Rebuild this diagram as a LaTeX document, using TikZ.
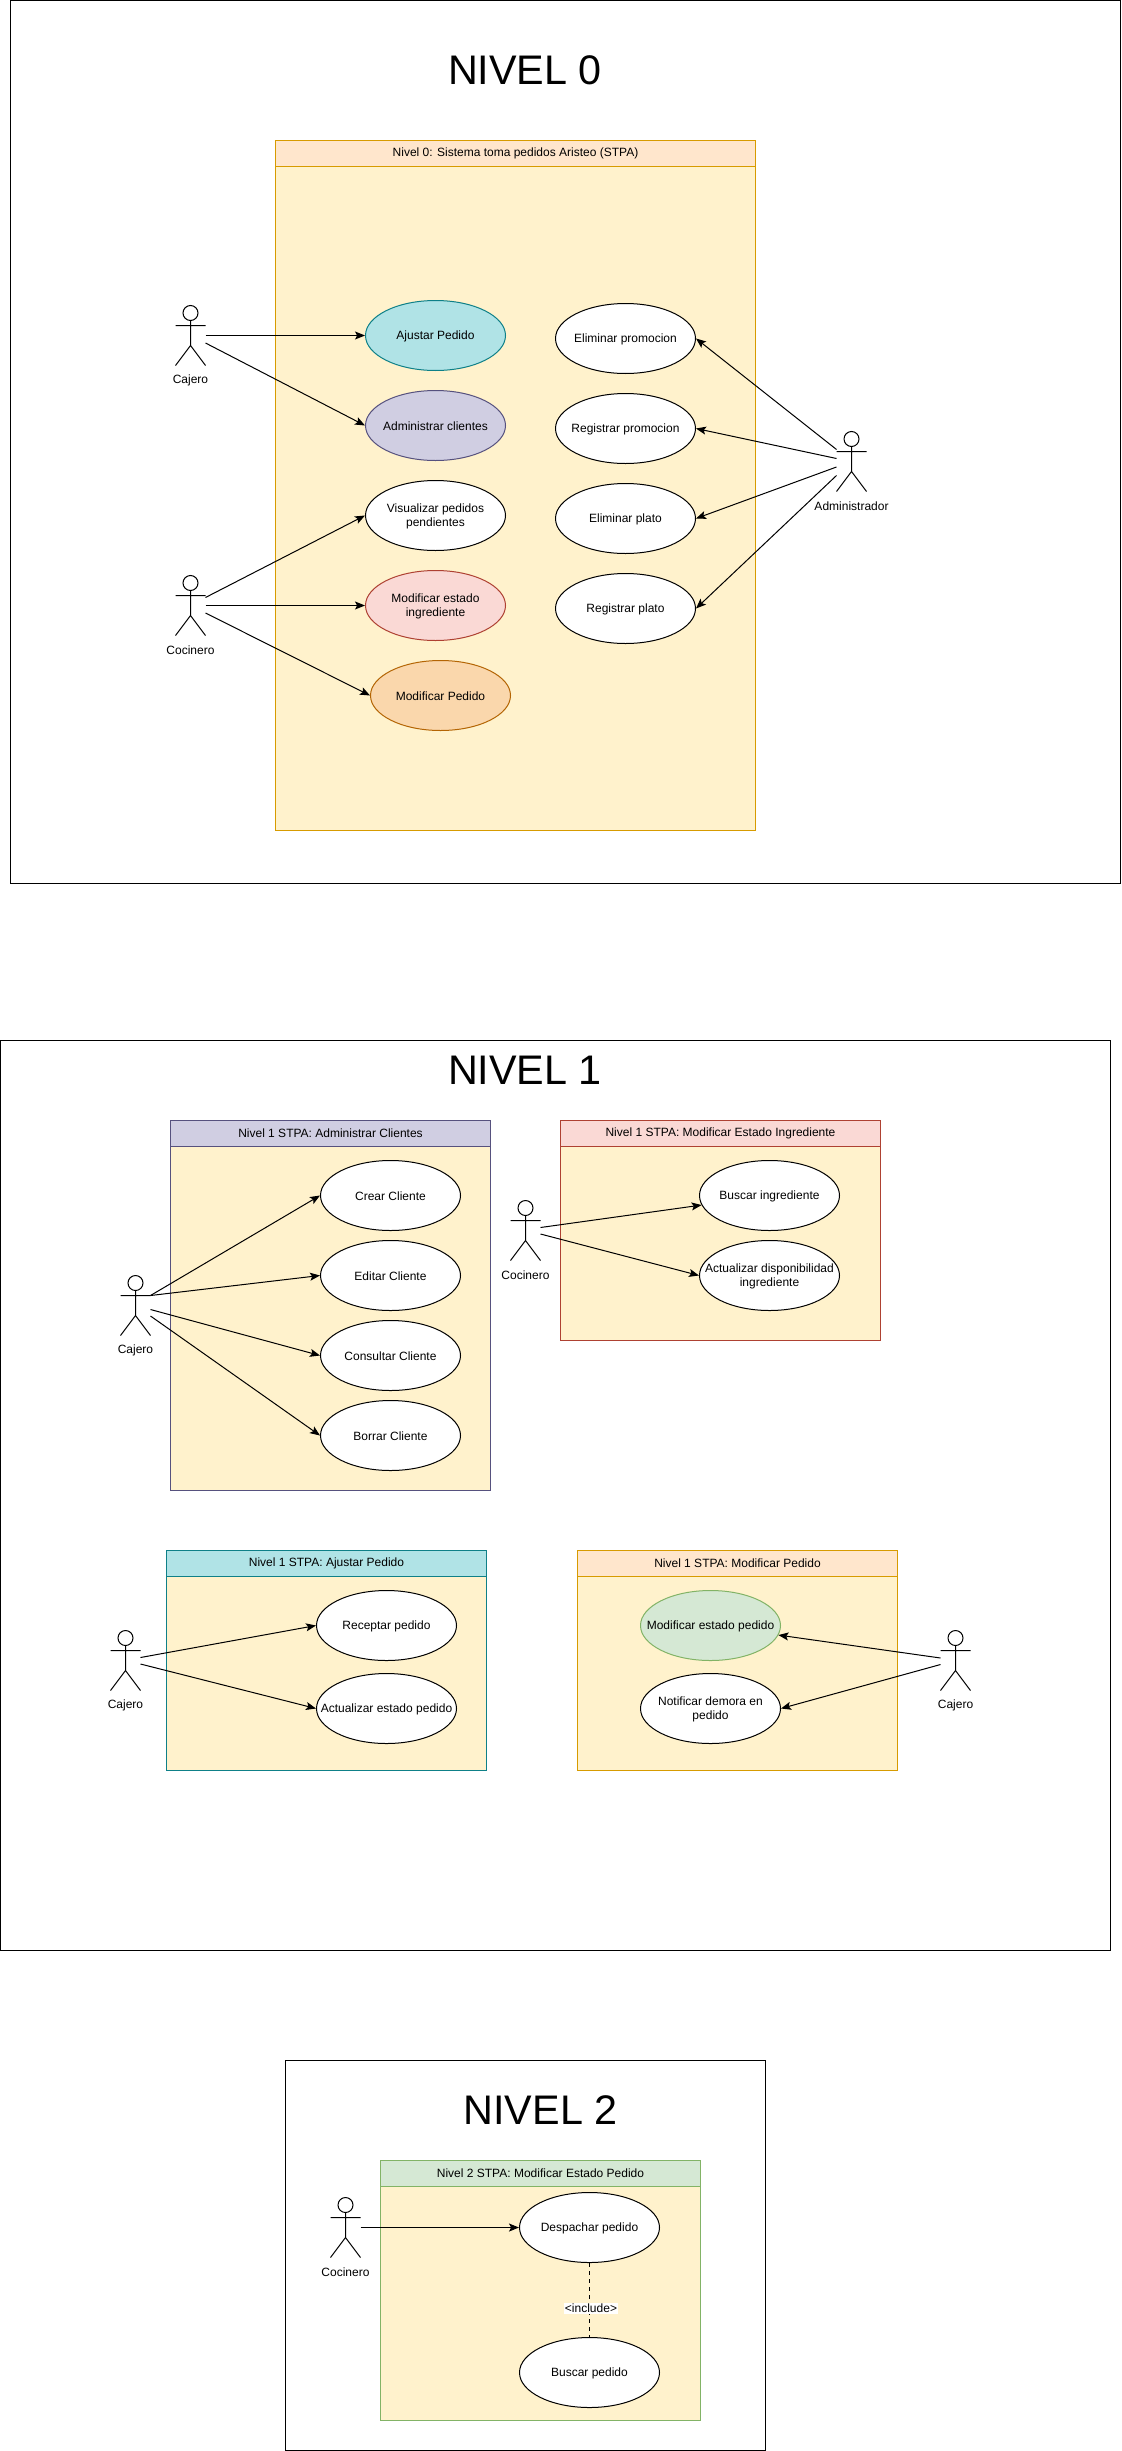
\documentclass[tikz,border=0pt]{standalone}
\usepackage{fontspec}
\setmainfont{Liberation Sans}
\usetikzlibrary{shapes.geometric,arrows.meta}
\definecolor{lanebg}{HTML}{FFF2CC}
\definecolor{orangeF}{HTML}{FFE6CC}\definecolor{orangeS}{HTML}{D79B00}
\definecolor{purpleF}{HTML}{D0CEE2}\definecolor{purpleS}{HTML}{56517E}
\definecolor{redF}{HTML}{FAD9D5}\definecolor{redS}{HTML}{AE4132}
\definecolor{tealF}{HTML}{B0E3E6}\definecolor{tealS}{HTML}{0E8088}
\definecolor{darkorF}{HTML}{FAD7AC}\definecolor{darkorS}{HTML}{B46504}
\definecolor{greenF}{HTML}{D5E8D4}\definecolor{greenS}{HTML}{82B366}
\tikzset{
  lnw/.style={line width=0.75pt},
  txt/.style={font=\fontsize{9}{11}\selectfont},
  frame/.style={draw=black,lnw,fill=none,inner sep=0pt},
  titletext/.style={font=\fontsize{31}{36}\selectfont,inner sep=0pt},
  lanebody/.style={lnw,fill=lanebg,inner sep=0pt},
  lanehead/.style={lnw,txt,inner sep=0pt},
  usecase/.style={ellipse,lnw,minimum width=105pt,minimum height=52.5pt,inner sep=0pt},
  actorlabel/.style={txt,inner sep=0pt},
  conn/.style={lnw,-{Stealth[length=7.5pt,width=6pt,inset=1.6pt]}},
}
% name, x0,y0,x1,y1
\newcommand{\frameb}[5]{\node[frame,minimum width={(#4-#2)*0.75pt},minimum height={(#5-#3)*0.75pt}] (#1) at ({(#2+#4)/2},{(#3+#5)/2}) {};}
% name, x0,y0,x1,y1, fill, stroke, title
\newcommand{\lane}[8]{%
  \node[lanebody,draw=#7,minimum width={(#4-#2)*0.75pt},minimum height={(#5-#3)*0.75pt}] (#1) at ({(#2+#4)/2},{(#3+#5)/2}) {};
  \node[lanehead,fill=#6,draw=#7,minimum width={(#4-#2)*0.75pt},minimum height=19.5pt] (#1-h) at ({(#2+#4)/2},{#3+13}) {\raisebox{-0.6pt}{#8}};}
% name, cx, cy, text, fill, stroke
\newcommand{\uc}[6]{\node[usecase,fill=#5,draw=#6,label={[txt,align=center,inner sep=0pt,yshift=-0.6pt]center:#4}] (#1) at (#2,#3) {};}
% name, cx, top, text
\newcommand{\actor}[4]{%
  \node[minimum width=22.5pt,minimum height=45pt,inner sep=0pt] (#1) at (#2,{#3+30}) {};
  \draw[lnw] (#2,{#3+7.5}) circle [radius=5.625pt];
  \draw[lnw] ({#2-15},{#3+20}) -- ({#2+15},{#3+20})
    (#2,{#3+15}) -- (#2,{#3+40})
    ({#2-15},{#3+60}) -- (#2,{#3+40}) -- ({#2+15},{#3+60});
  \node[actorlabel] (#1-l) at (#2,{#3+75}) {#4};}
\begin{document}
\begin{tikzpicture}[x=0.75pt,y=-0.75pt]
\useasboundingbox (0,0) rectangle (1121,2451);
% ---------- NIVEL 0
\frameb{f0}{10.5}{0.5}{1120.5}{883}
\node[titletext] (t0) at (525,70.5) {NIVEL 0};
\lane{l0}{275.5}{140.5}{755.5}{830.5}{orangeF}{orangeS}{Nivel 0: Sistema toma pedidos Aristeo (STPA)}
\uc{a1}{435.5}{335.5}{Ajustar Pedido}{tealF}{tealS}
\uc{a2}{435.5}{425.5}{Administrar clientes}{purpleF}{purpleS}
\uc{a3}{435.5}{515.5}{Visualizar pedidos\\pendientes}{white}{black}
\uc{a4}{435.5}{605.5}{Modificar estado\\ingrediente}{redF}{redS}
\uc{a5}{440.5}{695.5}{Modificar Pedido}{darkorF}{darkorS}
\uc{b1}{625.5}{338.5}{Eliminar promocion}{white}{black}
\uc{b2}{625.5}{428.5}{Registrar promocion}{white}{black}
\uc{b3}{625.5}{518.5}{Eliminar plato}{white}{black}
\uc{b4}{625.5}{608.5}{Registrar plato}{white}{black}
\actor{c0}{190.5}{305.5}{Cajero}
\actor{k0}{190.5}{575.5}{Cocinero}
\actor{d0}{851.5}{431.5}{Administrador}
\coordinate (c0a) at (205.5,335.5);
\coordinate (c0b) at (205.5,343);
\coordinate (k0a) at (205.5,597.5);
\coordinate (k0b) at (205.5,605.5);
\coordinate (k0c) at (205.5,613);
\coordinate (d0a) at (836.5,449.5);
\coordinate (d0b) at (836.5,458.5);
\coordinate (d0c) at (836.5,467);
\coordinate (d0d) at (836.5,475.5);
\draw[conn] (c0a) -- (a1.west);
\draw[conn] (c0b) -- (a2.west);
\draw[conn] (k0a) -- (a3.west);
\draw[conn] (k0b) -- (a4.west);
\draw[conn] (k0c) -- (a5.west);
\draw[conn] (d0a) -- (b1.east);
\draw[conn] (d0b) -- (b2.east);
\draw[conn] (d0c) -- (b3.east);
\draw[conn] (d0d) -- (b4.east);
% ---------- NIVEL 1
\frameb{f1}{0.5}{1040.5}{1110.5}{1950.5}
\node[titletext] (t1) at (525,1070.5) {NIVEL 1};
\lane{l1a}{170.5}{1120.5}{490.5}{1490.5}{purpleF}{purpleS}{Nivel 1 STPA: Administrar Clientes}
\uc{e1}{390.5}{1195.5}{Crear Cliente}{white}{black}
\uc{e2}{390.5}{1275.5}{Editar Cliente}{white}{black}
\uc{e3}{390.5}{1355.5}{Consultar Cliente}{white}{black}
\uc{e4}{390.5}{1435.5}{Borrar Cliente}{white}{black}
\actor{c1}{135.5}{1275.5}{Cajero}
\coordinate (c1a) at (150.5,1295.5);
\coordinate (c1c) at (150.5,1309.5);
\coordinate (c1d) at (150.5,1316);
\draw[conn] (c1a) -- (e1.west);
\draw[conn] (c1a) -- (e2.west);
\draw[conn] (c1c) -- (e3.west);
\draw[conn] (c1d) -- (e4.west);
\lane{l1b}{560.5}{1120.5}{880.5}{1340.5}{redF}{redS}{Nivel 1 STPA: Modificar Estado Ingrediente}
\uc{g1}{769.5}{1195.5}{Buscar ingrediente}{white}{black}
\uc{g2}{769.5}{1275.5}{Actualizar disponibilidad\\ingrediente}{white}{black}
\actor{k1}{525.5}{1200.5}{Cocinero}
\coordinate (k1a) at (540.5,1227.5);
\coordinate (k1b) at (540.5,1234);
\draw[conn] (k1a) -- (g1.188);
\draw[conn] (k1b) -- (g2.west);
\lane{l1c}{166.5}{1550.5}{486.5}{1770.5}{tealF}{tealS}{Nivel 1 STPA: Ajustar Pedido}
\uc{h1}{386.5}{1625.5}{Receptar pedido}{white}{black}
\uc{h2}{386.5}{1708.5}{Actualizar estado pedido}{white}{black}
\actor{c2}{125.5}{1630.5}{Cajero}
\coordinate (c2a) at (140.5,1657.5);
\coordinate (c2b) at (140.5,1664);
\draw[conn] (c2a) -- (h1.west);
\draw[conn] (c2b) -- (h2.west);
\lane{l1d}{577.5}{1550.5}{897.5}{1770.5}{orangeF}{orangeS}{Nivel 1 STPA: Modificar Pedido}
\uc{i1}{710.5}{1625.5}{Modificar estado pedido}{greenF}{greenS}
\uc{i2}{710.5}{1708.5}{Notificar demora en\\pedido}{white}{black}
\actor{c3}{955.5}{1630.5}{Cajero}
\coordinate (c3a) at (940.5,1658);
\coordinate (c3b) at (940.5,1664.5);
\draw[conn] (c3a) -- (i1.-8);
\draw[conn] (c3b) -- (i2.east);
% ---------- NIVEL 2
\frameb{f2}{285.5}{2060.5}{765.5}{2450.5}
\node[titletext] (t2) at (540.5,2110.5) {NIVEL 2};
\lane{l2}{380.5}{2160.5}{700.5}{2420.5}{greenF}{greenS}{Nivel 2 STPA: Modificar Estado Pedido}
\uc{m1}{589.5}{2227.5}{Despachar pedido}{white}{black}
\uc{m2}{589.5}{2372.5}{Buscar pedido}{white}{black}
\actor{k2}{345.5}{2197.5}{Cocinero}
\coordinate (k2a) at (360.5,2227.5);
\draw[conn] (k2a) -- (m1.west);
\draw[lnw,dash pattern=on 3pt off 3pt] (m1.south) -- (m2.north);
\node[font=\fontsize{9}{11}\selectfont,fill=white,inner sep=0.6pt] (m3) at (591,2308.5) {<include>};
\end{tikzpicture}
\end{document}
